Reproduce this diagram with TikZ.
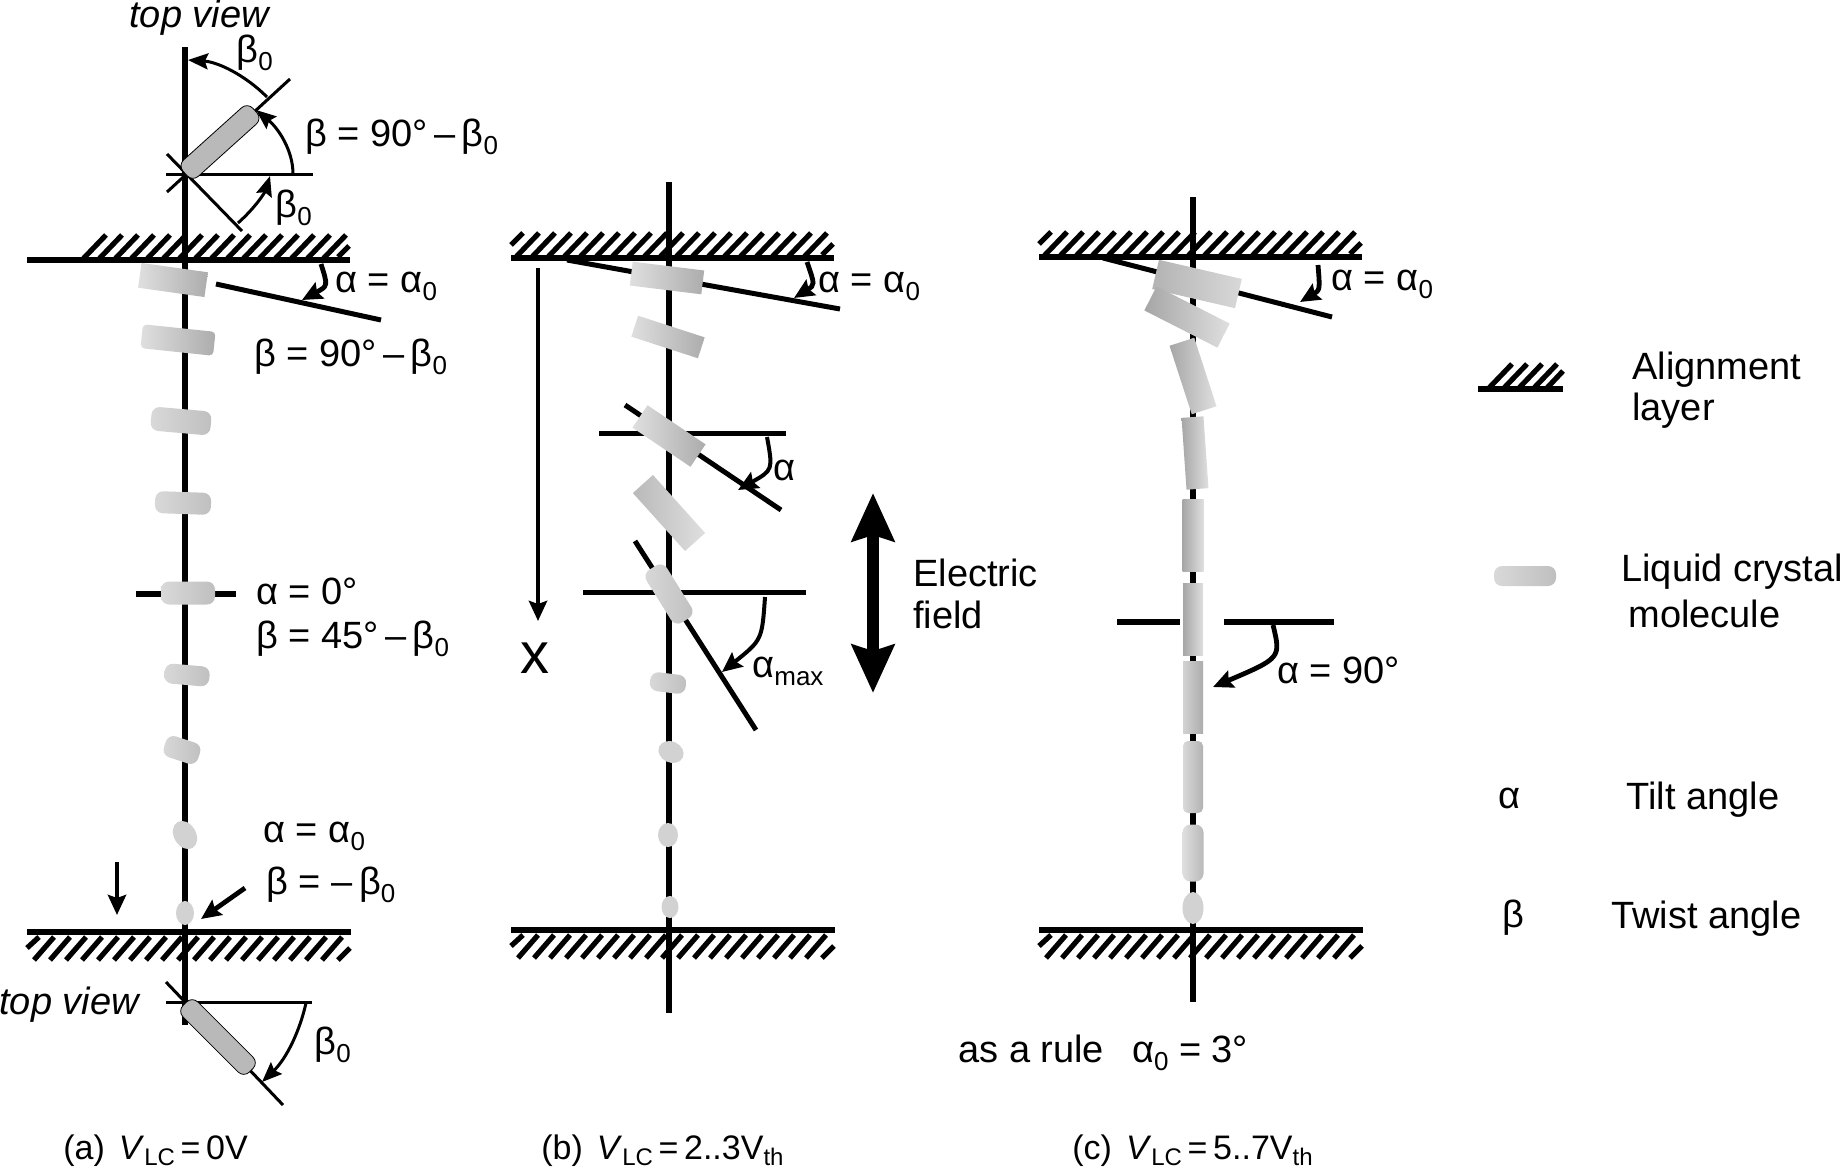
\documentclass[tikz,border=0pt]{standalone}
\usepackage{fontspec}
\setmainfont{Liberation Sans}
\usetikzlibrary{arrows.meta,shapes.geometric}
\newcommand{\lsub}[1]{\raisebox{-0.4ex}{\fontsize{13}{13}\selectfont #1}}
\newcommand{\csub}[1]{\raisebox{-0.3ex}{\fontsize{12}{12}\selectfont #1}}
\tikzset{
  lbl/.style={anchor=west, inner sep=0, yshift=-1.5pt, font=\fontsize{19}{22}\selectfont},
  caplbl/.style={anchor=west, inner sep=0, yshift=-1pt, font=\fontsize{17}{20}\selectfont},
  axisline/.style={line width=3pt},
  thinline/.style={line width=1.5pt},
  tiltline/.style={line width=2.5pt},
  hatchline/.style={line width=2.6pt},
  myarrow/.style={line width=1.5pt, -{Stealth[length=10pt,width=8pt,inset=1.5pt]}},
  fatarrow/.style={line width=2.4pt, -{Stealth[length=10pt,width=9pt,inset=1.5pt]}},
  molbar/.style={rectangle, inner sep=0, left color=gray!25, right color=gray!65},
  molfade/.style={rectangle, inner sep=0, left color=gray!70, right color=gray!25},
  molround/.style={rectangle, inner sep=0, left color=gray!30, right color=gray!50, rounded corners=4pt},
  moldot/.style={ellipse, inner sep=0, fill=gray!35},
  topmol/.style={rectangle, rounded corners=4pt, inner sep=0, fill=gray!55, draw=black, line width=0.4pt}
}
\begin{document}
\begin{tikzpicture}[x=0.5pt, y=-0.5pt]
\useasboundingbox (0,0) rectangle (1845,1167);

% alignment layers
\foreach \dx/\ya/\yb/\hs in {0/260/932/82, 484/258/930/31, 1012/257/930/31} {
  \draw[axisline] (27+\dx,\ya) -- (350+\dx,\ya);
  \draw[axisline] (27+\dx,\yb) -- (351+\dx,\yb);
  \foreach \hx in {0,16,...,240}
    \draw[hatchline] (\hs+\hx+\dx,\ya) -- (\hs+\hx+24+\dx,\ya-25);
  \ifnum\hs=31
    \foreach \hx in {256,272,288}
      \draw[hatchline] (\hs+\hx+\dx,\ya) -- (\hs+\hx+24+\dx,\ya-25);
    \draw[hatchline] (27+\dx,\ya-13) -- (39+\dx,\ya-25);
  \fi
  \draw[hatchline] (338+\dx,\ya-3) -- (349+\dx,\ya-14);
  \draw[hatchline] (27+\dx,\yb+16) -- (39+\dx,\yb+5);
  \foreach \hx in {34,50,...,322}
    \draw[hatchline] (\hx+\dx,\yb+28) -- (\hx+20+\dx,\yb+5);
  \draw[hatchline] (338+\dx,\yb+28) -- (350+\dx,\yb+16);
}

% axes
\draw[axisline] (185,47) -- (185,1025);
\draw[axisline] (669,182) -- (669,1013);
\draw[axisline] (1193,197) -- (1193,1002);

% top view, panel a
\draw[thinline] (166,174) -- (313,174);
\draw[thinline] (167,154) -- (242,231);
\draw[thinline] (167,192) -- (290,79);
\node[topmol, minimum width=47, minimum height=11, rotate=42] (topa) at (220,142) {};
\draw[myarrow] (267,97) .. controls (245,75) and (218,62) .. (188,60);
\draw[myarrow] (293,174) .. controls (293,150) and (278,128) .. (256,110);
\draw[myarrow] (238,223) .. controls (256,207) and (265,192) .. (270,176);
\node[lbl] (tva) at (129,15) {\textit{top view}};
\node[lbl] (b0a) at (236,50) {β\lsub{0}};
\node[lbl] (b0b) at (275,205) {β\lsub{0}};
\node[lbl] (bta) at (305,134) {β = 90°\,–\,β\lsub{0}};

% molecules, panel a
\draw[axisline] (136,594) -- (236,594);
\node[molbar, minimum width=33.5, minimum height=12.5, rotate=-8] (a1) at (173,280) {};
\node[molbar, rounded corners=2pt, minimum width=36.5, minimum height=12, rotate=-6] (a2) at (178,340) {};
\node[molround, minimum width=30, minimum height=12, rotate=-5] (a3) at (181,421) {};
\node[molround, minimum width=28, minimum height=11, rotate=-2] (a4) at (183,503) {};
\node[molround, minimum width=27, minimum height=11.5] (a5) at (188,593) {};
\node[molround, minimum width=22.5, minimum height=10, rotate=-5] (a6) at (187,675) {};
\node[molround, minimum width=18, minimum height=11, rotate=-18] (a7) at (182,750) {};
\node[moldot, minimum width=15, minimum height=11, rotate=-60] (a8) at (185,835) {};
\node[moldot, minimum width=12, minimum height=9, rotate=90] (a9) at (185,913) {};
\draw[tiltline] (216,284) -- (381,320);
\draw[fatarrow] (321,264) .. controls (328,286) .. (302,300);
\draw[fatarrow] (117,862) -- (117,915);
\draw[fatarrow] (245,888) -- (201,919);
\node[lbl] (aa0) at (335,283) {α = α\lsub{0}};
\node[lbl] (ba0) at (254,354) {β = 90°\,–\,β\lsub{0}};
\node[lbl] (ab0) at (256,588) {α = 0°};
\node[lbl] (bb0) at (256,636) {β = 45°\,–\,β\lsub{0}};
\node[lbl] (ac0) at (263,833) {α = α\lsub{0}};
\node[lbl] (bc0) at (266,882) {β = –\,β\lsub{0}};

% bottom view, panel a
\draw[thinline] (166,1002) -- (312,1002);
\draw[thinline] (166,982) -- (283,1105);
\node[topmol, minimum width=47, minimum height=10.5, rotate=-45] (bota) at (218,1037) {};
\draw[myarrow] (306,1003) .. controls (300,1030) and (287,1058) .. (262,1082);
\node[lbl] (tvb) at (-1,1002) {\textit{top view}};
\node[lbl] (b0c) at (314,1042) {β\lsub{0}};

% panel b
\draw[tiltline] (567,260) -- (840,309);
\draw[tiltline] (599,433) -- (786,433);
\draw[tiltline] (625,405) -- (781,510);
\draw[tiltline] (583,592) -- (806,592);
\draw[tiltline] (635,541) -- (756,730);
\node[molbar, minimum width=36, minimum height=12, rotate=-7] (b1) at (667,278) {};
\node[molbar, minimum width=35, minimum height=11, rotate=-18] (b2) at (668,337) {};
\node[molbar, minimum width=35, minimum height=13.5, rotate=-34] (b3) at (669,436) {};
\node[molfade, left color=gray!55, minimum width=39, minimum height=13.5, rotate=-48] (b4) at (669,513) {};
\node[molround, minimum width=31, minimum height=12, rotate=-58] (b5) at (669,594) {};
\node[molround, minimum width=18, minimum height=9.5, rotate=-7] (b6) at (668,683) {};
\node[moldot, minimum width=13, minimum height=10.5, rotate=-25] (b7) at (671,752) {};
\node[moldot, minimum width=12, minimum height=10, rotate=90] (b8) at (668,835) {};
\node[moldot, minimum width=11, minimum height=8.5, rotate=90] (b9) at (670,907) {};
\draw[fatarrow] (538,268) -- (538,621);
\node[anchor=center, inner sep=0, font=\fontsize{29}{29}\selectfont] (xlab) at (535,658) {x};
\draw[fatarrow] (807,262) .. controls (815,285) .. (794,298);
\draw[fatarrow, line width=2pt] (767,437) .. controls (773,470) .. (738,490);
\draw[fatarrow, line width=2pt] (765,597) .. controls (762,640) .. (722,672);
\node[lbl] (ad0) at (818,283) {α = α\lsub{0}};
\node[lbl] (ae0) at (773,467) {α};
\node[lbl] (af0) at (752,668) {α\lsub{max}};
\draw[line width=6pt, {Stealth[length=24pt,width=21pt,inset=3pt]}-{Stealth[length=24pt,width=21pt,inset=3pt]}] (873,493) -- (873,693);
\node[lbl] (ef1) at (913,570) {Electric};
\node[lbl] (ef2) at (913,612) {field};

% panel c
\draw[tiltline] (1103,258) -- (1332,317);
\draw[axisline] (1117,622) -- (1180,622);
\draw[axisline] (1224,622) -- (1334,622);
\node[molbar, left color=gray!60, right color=gray!30, minimum width=42.5, minimum height=15, rotate=-13] (c1) at (1197,284) {};
\node[molfade, minimum width=41, minimum height=13.5, rotate=-27] (c2) at (1187,317) {};
\node[molfade, minimum width=36, minimum height=13, rotate=-72] (c3) at (1193,376) {};
\node[molfade, minimum width=36, minimum height=11, rotate=-86] (c4) at (1195,453) {};
\node[molfade, minimum width=36, minimum height=10.5, rotate=-90] (c5) at (1193,535) {};
\node[molfade, minimum width=36, minimum height=10, rotate=-90] (c6) at (1193,619) {};
\node[molbar, left color=gray!35, right color=gray!65, minimum width=36, minimum height=10, rotate=-90] (c7) at (1193,697) {};
\node[molbar, left color=gray!30, right color=gray!60, rounded corners=2.5pt, minimum width=36, minimum height=10, rotate=-90] (c8) at (1193,777) {};
\node[molbar, left color=gray!25, right color=gray!55, rounded corners=4pt, minimum width=28.5, minimum height=10.5, rotate=-90] (c9) at (1193,853) {};
\node[moldot, minimum width=16, minimum height=10.5, rotate=90] (c10) at (1193,908) {};
\draw[fatarrow] (1318,265) .. controls (1320,290) .. (1300,302);
\draw[fatarrow] (1273,625) .. controls (1281,658) .. (1213,687);
\node[lbl] (ag0) at (1331,281) {α = α\lsub{0}};
\node[lbl] (ah0) at (1277,667) {α = 90°};
\node[lbl] (rule) at (958,1050) {as a rule\hspace{14pt}α\lsub{0} = 3°};

% legend
\draw[axisline] (1478,389) -- (1563,389);
\foreach \hx in {1488,1503,...,1533}
  \draw[hatchline] (\hx,389) -- (\hx+24,364);
\draw[hatchline] (1546,389) -- (1563,371);
\node[lbl] (leg1) at (1632,367) {Alignment};
\node[lbl] (leg2) at (1632,408) {layer};
\node[molround, minimum width=31, minimum height=10] (legmol) at (1525,576) {};
\node[lbl] (leg3) at (1621,569) {Liquid crystal};
\node[lbl] (leg4) at (1628,611) {molecule};
\node[lbl] (leg5) at (1498,795) {α};
\node[lbl] (leg6) at (1626,797) {Tilt angle};
\node[lbl] (leg7) at (1502,915) {β};
\node[lbl] (leg8) at (1611,916) {Twist angle};

% captions
\node[caplbl] (capa) at (63,1149) {(a)\hspace{7pt}\textit{V}\csub{LC}\,=\,0V};
\node[caplbl] (capb) at (541,1149) {(b)\hspace{7pt}\textit{V}\csub{LC}\,=\,2..3V\csub{th}};
\node[caplbl] (capc) at (1072,1149) {(c)\hspace{7pt}\textit{V}\csub{LC}\,=\,5..7V\csub{th}};
\end{tikzpicture}
\end{document}
